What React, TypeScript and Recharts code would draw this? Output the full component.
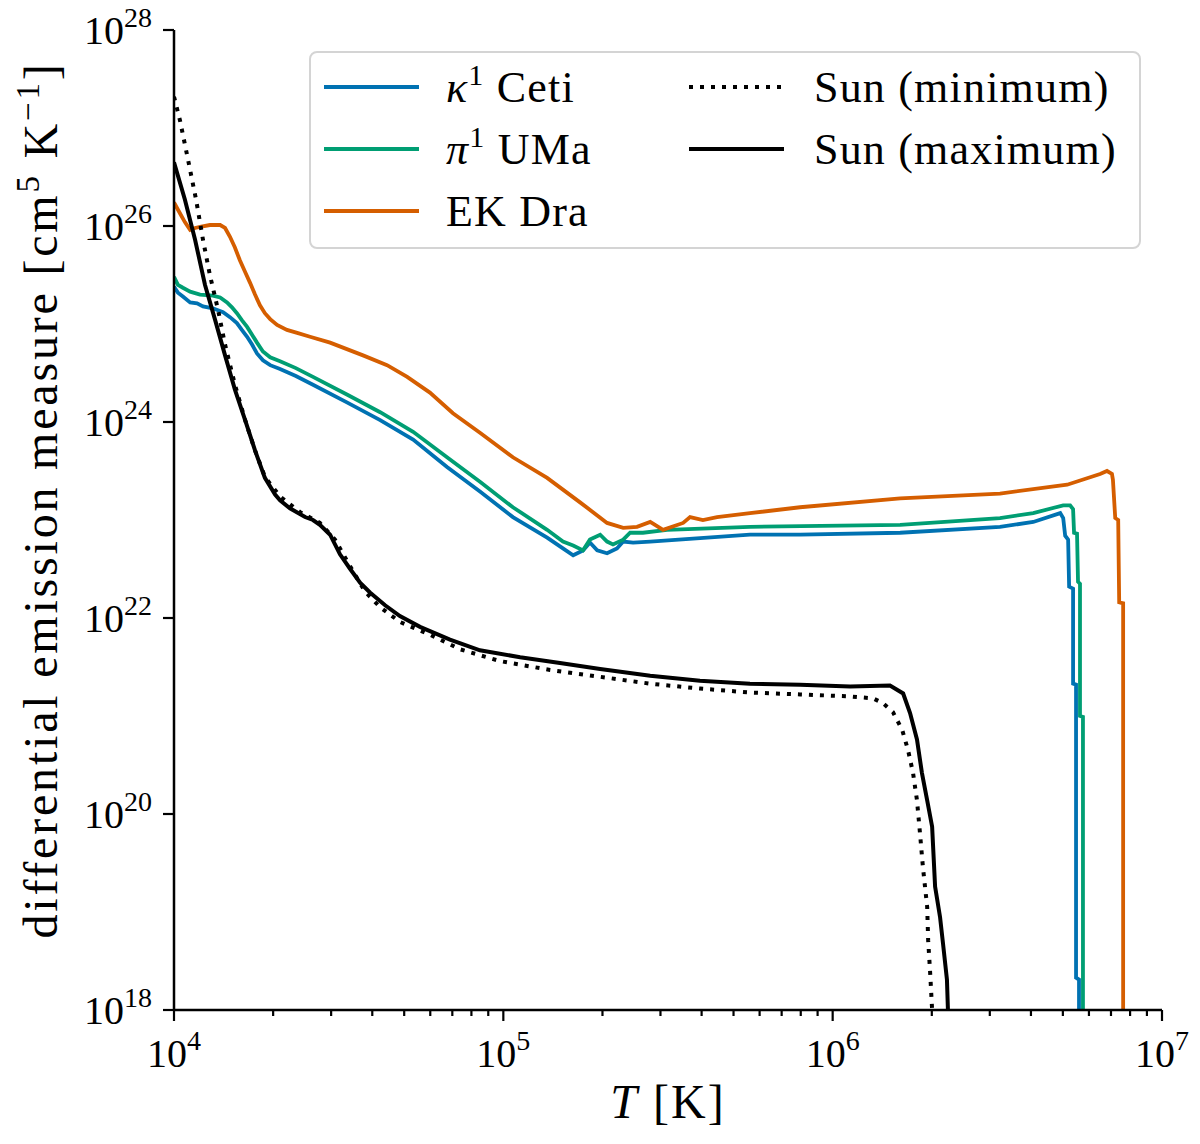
import { Legend, Line, LineChart, XAxis, YAxis } from "recharts";

const FONT = "'Liberation Serif', 'Times New Roman', Tinos, 'DejaVu Serif', 'Noto Serif', serif";

// values, stored as log10 T [K] and log10 DEM [cm^5 K^-1]
const kappaLogT = [4.000, 4.012, 4.027, 4.049, 4.070, 4.088, 4.118, 4.149, 4.170, 4.191, 4.206, 4.222, 4.237, 4.252, 4.270, 4.292, 4.322, 4.370, 4.422, 4.525, 4.626, 4.726, 4.829, 4.929, 5.029, 5.133, 5.181, 5.212, 5.242, 5.263, 5.285, 5.315, 5.345, 5.364, 5.394, 5.446, 5.749, 5.901, 6.205, 6.508, 6.609, 6.691, 6.700, 6.706, 6.715, 6.718, 6.730, 6.730, 6.739, 6.739, 6.748, 6.748];
const kappaLogDem = [25.38, 25.32, 25.28, 25.22, 25.21, 25.18, 25.16, 25.12, 25.07, 25.01, 24.94, 24.87, 24.79, 24.70, 24.63, 24.58, 24.54, 24.47, 24.38, 24.20, 24.02, 23.82, 23.54, 23.29, 23.03, 22.82, 22.71, 22.64, 22.69, 22.77, 22.69, 22.66, 22.71, 22.78, 22.77, 22.78, 22.85, 22.85, 22.87, 22.93, 22.98, 23.07, 23.02, 22.84, 22.80, 22.32, 22.30, 21.33, 21.32, 18.33, 18.31, 18.00];

const piLogT = [4.000, 4.012, 4.027, 4.049, 4.079, 4.118, 4.140, 4.161, 4.176, 4.191, 4.206, 4.222, 4.237, 4.252, 4.270, 4.292, 4.322, 4.370, 4.422, 4.525, 4.626, 4.726, 4.829, 4.929, 5.029, 5.133, 5.181, 5.212, 5.242, 5.263, 5.294, 5.315, 5.333, 5.364, 5.385, 5.424, 5.497, 5.749, 6.205, 6.508, 6.609, 6.700, 6.721, 6.730, 6.733, 6.742, 6.745, 6.751, 6.751, 6.760, 6.760];
const piLogDem = [25.48, 25.40, 25.37, 25.33, 25.30, 25.29, 25.27, 25.22, 25.17, 25.11, 25.04, 24.97, 24.89, 24.81, 24.72, 24.66, 24.62, 24.55, 24.46, 24.28, 24.10, 23.90, 23.64, 23.39, 23.13, 22.90, 22.78, 22.74, 22.69, 22.80, 22.85, 22.78, 22.75, 22.80, 22.87, 22.87, 22.90, 22.93, 22.95, 23.02, 23.07, 23.15, 23.15, 23.11, 22.87, 22.86, 22.37, 22.35, 21.00, 20.99, 18.00];

const ekLogT = [4.000, 4.018, 4.033, 4.049, 4.064, 4.079, 4.109, 4.140, 4.155, 4.170, 4.185, 4.200, 4.216, 4.231, 4.246, 4.261, 4.276, 4.292, 4.313, 4.343, 4.374, 4.413, 4.474, 4.574, 4.647, 4.708, 4.777, 4.847, 4.929, 5.029, 5.133, 5.233, 5.315, 5.364, 5.406, 5.446, 5.485, 5.546, 5.567, 5.606, 5.649, 5.749, 5.901, 6.205, 6.508, 6.712, 6.812, 6.833, 6.848, 6.851, 6.858, 6.867, 6.870, 6.882, 6.882];
const ekLogDem = [26.24, 26.13, 26.04, 25.96, 25.98, 25.99, 26.01, 26.01, 25.98, 25.89, 25.78, 25.65, 25.53, 25.42, 25.30, 25.19, 25.11, 25.05, 24.99, 24.94, 24.91, 24.87, 24.81, 24.68, 24.58, 24.46, 24.30, 24.09, 23.89, 23.64, 23.43, 23.18, 22.97, 22.92, 22.93, 22.98, 22.90, 22.97, 23.03, 23.00, 23.03, 23.07, 23.13, 23.22, 23.27, 23.36, 23.47, 23.50, 23.47, 23.41, 23.02, 23.00, 22.16, 22.15, 18.00];

const sunMinLogT = [4.000, 4.018, 4.043, 4.067, 4.088, 4.109, 4.134, 4.155, 4.185, 4.216, 4.246, 4.276, 4.322, 4.383, 4.443, 4.489, 4.519, 4.550, 4.580, 4.626, 4.686, 4.777, 4.869, 4.990, 5.142, 5.294, 5.446, 5.597, 5.749, 5.901, 6.053, 6.123, 6.153, 6.183, 6.211, 6.229, 6.244, 6.256, 6.265, 6.274, 6.287, 6.290, 6.296, 6.302];
const sunMinLogDem = [27.32, 27.08, 26.67, 26.27, 25.86, 25.50, 25.14, 24.79, 24.38, 24.02, 23.71, 23.44, 23.24, 23.08, 22.97, 22.80, 22.62, 22.44, 22.27, 22.11, 21.96, 21.83, 21.68, 21.56, 21.47, 21.40, 21.33, 21.28, 21.24, 21.22, 21.20, 21.18, 21.13, 21.04, 20.86, 20.65, 20.42, 20.14, 19.81, 19.46, 19.05, 18.71, 18.38, 18.00];

const sunMaxLogT = [4.000, 4.033, 4.064, 4.094, 4.125, 4.155, 4.185, 4.216, 4.246, 4.276, 4.307, 4.322, 4.352, 4.398, 4.422, 4.443, 4.474, 4.504, 4.535, 4.565, 4.595, 4.641, 4.686, 4.747, 4.838, 4.929, 5.051, 5.172, 5.294, 5.446, 5.597, 5.749, 5.901, 6.053, 6.174, 6.214, 6.235, 6.256, 6.271, 6.287, 6.302, 6.311, 6.326, 6.335, 6.347, 6.350];
const sunMaxLogDem = [26.65, 26.27, 25.86, 25.40, 25.04, 24.68, 24.33, 24.02, 23.71, 23.43, 23.26, 23.20, 23.12, 23.03, 23.00, 22.95, 22.85, 22.65, 22.50, 22.36, 22.26, 22.13, 22.02, 21.91, 21.78, 21.67, 21.60, 21.54, 21.48, 21.41, 21.36, 21.33, 21.32, 21.30, 21.31, 21.23, 21.03, 20.76, 20.42, 20.14, 19.87, 19.26, 18.95, 18.68, 18.31, 18.00];

const xTicks = [1e4, 2e4, 3e4, 4e4, 5e4, 6e4, 7e4, 8e4, 9e4, 1e5, 2e5, 3e5, 4e5, 5e5, 6e5, 7e5, 8e5, 9e5, 1e6, 2e6, 3e6, 4e6, 5e6, 6e6, 7e6, 8e6, 9e6, 1e7];
const yTicks = [1e18, 1e20, 1e22, 1e24, 1e26, 1e28];

const toRows = (logT: number[], logDem: number[]) =>
  logT.map((t, i) => ({ T: Math.pow(10, t), dem: Math.pow(10, logDem[i]) }));

const series = [
  { id: "kappa", rows: toRows(kappaLogT, kappaLogDem), color: "#0072B2", width: 3.8, dash: undefined, label: ["κ", "1", " Ceti"] },
  { id: "pi", rows: toRows(piLogT, piLogDem), color: "#009E73", width: 3.8, dash: undefined, label: ["π", "1", " UMa"] },
  { id: "ek", rows: toRows(ekLogT, ekLogDem), color: "#D55E00", width: 3.8, dash: undefined, label: ["", "", "EK Dra"] },
  { id: "sunMin", rows: toRows(sunMinLogT, sunMinLogDem), color: "#000000", width: 4, dash: "4 7", label: ["", "", "Sun (minimum)"] },
  { id: "sunMax", rows: toRows(sunMaxLogT, sunMaxLogDem), color: "#000000", width: 4, dash: undefined, label: ["", "", "Sun (maximum)"] },
];

const isDecade = (v: number) => Math.abs(Math.log10(v) - Math.round(Math.log10(v))) < 1e-6;

function XTick(props: any) {
  const { x, y, payload } = props;
  const major = isDecade(payload.value);
  return (
    <g>
      <line x1={x} x2={x} y1={y} y2={y + (major ? 11 : 6)} stroke="#000" strokeWidth={2.2} />
      {major && (
        <text x={x} y={y + 57} textAnchor="middle" style={{ fontFamily: FONT }} fontSize={40} fill="#000">
          10<tspan dy={-17} fontSize={28}>{Math.round(Math.log10(payload.value))}</tspan>
        </text>
      )}
    </g>
  );
}

function YTick(props: any) {
  const { x, y, payload } = props;
  return (
    <g>
      <line x1={x} x2={x - 11} y1={y} y2={y} stroke="#000" strokeWidth={2.2} />
      <text x={x - 22} y={y + 14} textAnchor="end" style={{ fontFamily: FONT }} fontSize={40} fill="#000">
        10<tspan dy={-17} fontSize={28}>{Math.round(Math.log10(payload.value))}</tspan>
      </text>
    </g>
  );
}

function XTitle(props: any) {
  const vb = props.viewBox || { x: 174, width: 988, y: 1010 };
  return (
    <text x={vb.x + vb.width / 2} y={1118} textAnchor="middle" style={{ fontFamily: FONT }} fontSize={48} letterSpacing={2} fill="#000">
      <tspan fontStyle="italic">T</tspan> [K]
    </text>
  );
}

function YTitle() {
  return (
    <text transform="translate(57, 500) rotate(-90)" textAnchor="middle" style={{ fontFamily: FONT }} fontSize={48} letterSpacing={2.8} fill="#000">
      differential emission measure [cm<tspan dy={-18} fontSize={33}>5</tspan>
      <tspan dy={18}> K</tspan>
      <tspan dy={-18} fontSize={33}>−1</tspan>
      <tspan dy={18}>]</tspan>
    </text>
  );
}

function LegendBox() {
  return (
    <svg width={834} height={200} style={{ display: "block" }}>
      <rect x={1} y={1} width={830} height={196} rx={7} fill="#fff" fillOpacity={0.8} stroke="#d4d4d4" strokeWidth={2} />
      {series.map((s, i) => {
        const col = i < 3 ? 0 : 1;
        const row = i % 3;
        const lx = col === 0 ? 15 : 380;
        const tx = col === 0 ? 137 : 505;
        const cy = 36 + row * 62;
        const [greek, sup, rest] = s.label;
        return (
          <g key={s.id}>
            <line x1={lx} x2={lx + 95} y1={cy} y2={cy} stroke={s.color} strokeWidth={s.width} strokeDasharray={s.dash} />
            <text x={tx} y={cy + 15} style={{ fontFamily: FONT }} fontSize={44} letterSpacing={1.2} fill="#000">
              {greek && <tspan fontStyle="italic">{greek}</tspan>}
              {sup && <tspan dy={-17} fontSize={30}>{sup}</tspan>}
              <tspan dy={sup ? 17 : 0}>{rest}</tspan>
            </text>
          </g>
        );
      })}
    </svg>
  );
}

export default function App() {
  return (
    <div style={{ width: 1200, height: 1144, background: "#fff" }}>
      <style>{"body{margin:0}"}</style>
      <LineChart width={1200} height={1144} margin={{ top: 30, right: 38, bottom: 0, left: 0 }}>
        <XAxis
          xAxisId="main"
          type="number"
          dataKey="T"
          scale="log"
          domain={[1e4, 1e7]}
          allowDataOverflow
          ticks={xTicks}
          interval={0}
          tick={<XTick />}
          tickLine={false}
          tickSize={0}
          tickMargin={0}
          axisLine={{ stroke: "#000", strokeWidth: 2.5 }}
          height={134}
          label={<XTitle />}
        />
        <XAxis xAxisId="top" orientation="top" type="number" dataKey="T" scale="log" domain={[1e4, 1e7]} allowDataOverflow tick={false} tickLine={false} height={0} axisLine={{ stroke: "#000", strokeWidth: 2.5 }} />
        <YAxis
          yAxisId="main"
          type="number"
          dataKey="dem"
          scale="log"
          domain={[1e18, 1e28]}
          allowDataOverflow
          ticks={yTicks}
          interval={0}
          tick={<YTick />}
          tickLine={false}
          tickSize={0}
          tickMargin={0}
          axisLine={{ stroke: "#000", strokeWidth: 2.5 }}
          width={174}
          label={<YTitle />}
        />
        <YAxis yAxisId="right" orientation="right" type="number" dataKey="dem" scale="log" domain={[1e18, 1e28]} allowDataOverflow tick={false} tickLine={false} width={0} axisLine={{ stroke: "#000", strokeWidth: 2.5 }} />
        {series.map((s) => (
          <Line
            key={s.id}
            xAxisId="main"
            yAxisId="main"
            data={s.rows}
            dataKey="dem"
            type="linear"
            stroke={s.color}
            strokeWidth={s.width}
            strokeDasharray={s.dash}
            dot={false}
            activeDot={false}
            isAnimationActive={false}
          />
        ))}
        <Legend
          content={() => <LegendBox />}
          layout="horizontal"
          verticalAlign="middle"
          align="center"
          wrapperStyle={{ left: 309, top: 51, width: 834, height: 200 }}
        />
      </LineChart>
    </div>
  );
}
